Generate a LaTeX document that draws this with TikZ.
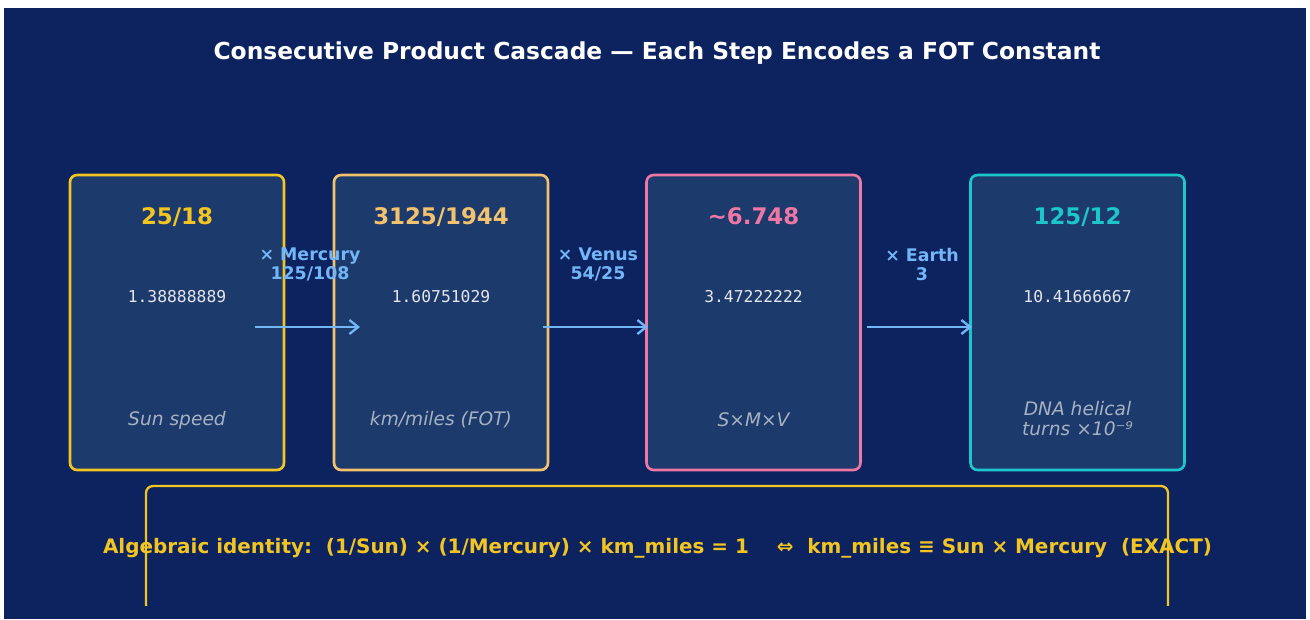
\documentclass[tikz,border=0pt]{standalone}
\usepackage{fontspec}
\setmainfont{DejaVu Sans}
\setmonofont{DejaVu Sans Mono}
\usetikzlibrary{arrows.meta}
\definecolor{bgnavy}{HTML}{0D235F}
\definecolor{boxfill}{HTML}{1C3A6C}
\definecolor{sungold}{HTML}{F2C523}
\definecolor{sand}{HTML}{F3C26E}
\definecolor{rosepink}{HTML}{EE77A4}
\definecolor{tealcyan}{HTML}{1CC6CB}
\definecolor{flowblue}{HTML}{72B6F7}
\definecolor{numgray}{HTML}{E4E6EA}
\definecolor{labgray}{HTML}{A6B2C2}

\begin{document}
\begin{tikzpicture}[x=0.02cm, y=-0.02cm, >={Straight Barb[length=5pt,width=8pt]},
  card/.style={draw, line width=1.5pt, fill=boxfill, rounded corners=4pt,
    minimum width=4.28cm, minimum height=5.9cm},
  val/.style={font=\bfseries\fontsize{13}{15}\selectfont},
  dec/.style={text=numgray, font=\ttfamily\fontsize{9.3}{11}\selectfont},
  tag/.style={text=labgray, font=\itshape\fontsize{10.6}{11.4}\selectfont, align=center},
  flow/.style={->, draw=flowblue, line width=1.3pt},
  mult/.style={text=flowblue, font=\bfseries\fontsize{9.9}{10.8}\selectfont, align=center}]
  \useasboundingbox (0,0) rectangle (1310,619);
  \fill[white] (0,0) rectangle (1310,619);
  \fill[bgnavy] (4,8) rectangle (1306,619);
  % Title
  \node[text=white, font=\bfseries\fontsize{13.3}{16}\selectfont] (title) at (657,53)
    {Consecutive Product Cascade — Each Step Encodes a FOT Constant};

  % Cascade cards
  \node[card, draw=sungold]  (sun)   at (177,322.5) {};
  \node[card, draw=sand]     (kmmi)  at (441,322.5) {};
  \node[card, draw=rosepink] (smv)   at (753.5,322.5) {};
  \node[card, draw=tealcyan] (dna)   at (1077.5,322.5) {};

  \node[val, text=sungold]  (sunval)  at (177,217)    {25/18};
  \node[val, text=sand]     (kmmival) at (441,217)    {3125/1944};
  \node[val, text=rosepink] (smvval)  at (753.5,216)  {\textasciitilde6.748};
  \node[val, text=tealcyan] (dnaval)  at (1077.5,217) {125/12};

  \node[dec] (sundec)  at (177,297)    {1.38888889};
  \node[dec] (kmmidec) at (441,297)    {1.60751029};
  \node[dec] (smvdec)  at (753.5,297)  {3.47222222};
  \node[dec] (dnadec)  at (1077.5,297) {10.41666667};

  \node[tag] (suntag)  at (177,420)    {Sun speed};
  \node[tag] (kmmitag) at (441,420)    {km/miles (FOT)};
  \node[tag] (smvtag)  at (753.5,420)  {S×M×V};
  \node[tag] (dnatag)  at (1077.5,419) {DNA helical\\turns ×10⁻⁹};

  % Multiplier steps
  \coordinate (s1) at (255,327); \coordinate (e1) at (360,327);
  \coordinate (s2) at (543,327); \coordinate (e2) at (648,327);
  \coordinate (s3) at (867,327); \coordinate (e3) at (972,327);
  \draw[flow] (s1) -- (e1);
  \draw[flow] (s2) -- (e2);
  \draw[flow] (s3) -- (e3);
  \node[mult] (mercury) at (310,264.5) {× Mercury\\125/108};
  \node[mult] (venus)   at (598,264.5) {× Venus\\54/25};
  \node[mult] (earth)   at (922,264.5) {× Earth\\3};

  % Identity box (cut at the bottom)
  \begin{scope}
    \clip (0,0) rectangle (1310,605.5);
    \draw[sungold, line width=1.3pt, rounded corners=4pt] (146,486) rectangle (1168,612);
  \end{scope}
  \node[text=sungold, font=\bfseries\fontsize{11.35}{13}\selectfont] (ident) at (657.5,548.5)
    {Algebraic identity:\ \ (1/Sun) × (1/Mercury) × km\_miles = 1\ \ \ \ ⇔\ \ km\_miles ≡ Sun × Mercury\ \ (EXACT)};
\end{tikzpicture}
\end{document}
